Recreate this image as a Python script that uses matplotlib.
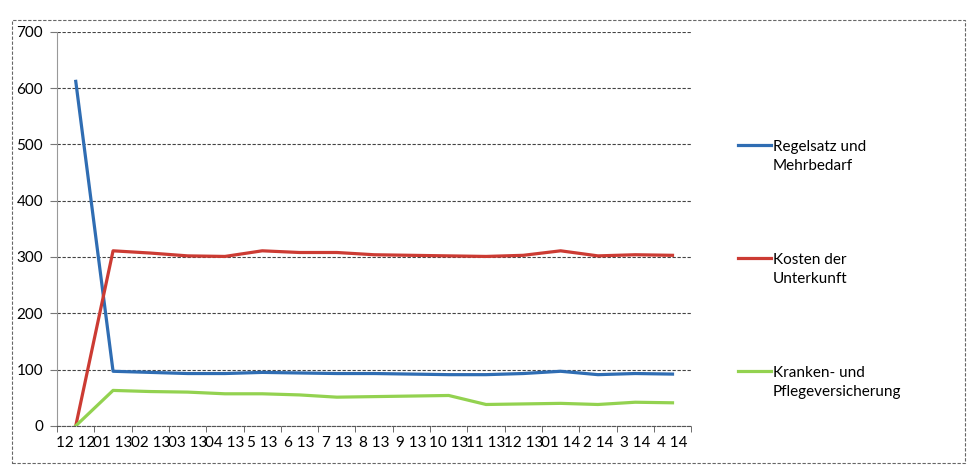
import numpy as np
import matplotlib as mpl
mpl.use('Agg')
import matplotlib.pyplot as plt
from matplotlib.patches import Rectangle
from matplotlib.legend_handler import HandlerLine2D

plt.rcParams['font.family'] = ['Lato', 'DejaVu Sans']
plt.rcParams['font.size'] = 11

# ---------------------------------------------------------------
# data
# ---------------------------------------------------------------
months = ['12 12', '01 13', '02 13', '03 13', '04 13', '5 13', '6 13', '7 13',
          '8 13', '9 13', '10 13', '11 13', '12 13', '01 14', '2 14', '3 14', '4 14']
regelsatz = [612, 97, 95, 93, 93, 95, 94, 93, 93, 92, 91, 91, 93, 97, 91, 93, 92]
unterkunft = [0, 311, 307, 302, 301, 311, 308, 308, 304, 303, 302, 301, 303, 311, 302, 304, 303]
kranken = [0, 63, 61, 60, 57, 57, 55, 51, 52, 53, 54, 38, 39, 40, 38, 42, 41]
names = ['Regelsatz und\nMehrbedarf', 'Kosten der\nUnterkunft',
         'Kranken- und\nPflegeversicherung']
colors = ['#2f6db3', '#cc3b33', '#93d250']


class TopLine(HandlerLine2D):
    # put the legend line next to the first text line, like Excel does
    def create_artists(self, legend, orig_handle, xdescent, ydescent,
                       width, height, fontsize, trans):
        return super().create_artists(legend, orig_handle, xdescent,
                                      ydescent - 1.45 * fontsize, width, height,
                                      fontsize, trans)


fig = plt.figure(figsize=(9.68, 4.68), dpi=100, facecolor='w')
ax = fig.add_axes([0.059, 0.09, 0.655, 0.842])

x = np.arange(len(months))
lines = []
for vals, col in zip([regelsatz, unterkunft, kranken], colors):
    ln, = ax.plot(x, vals, color=col, lw=2.3, solid_joinstyle='round')
    lines.append(ln)

ax.set_xlim(-0.5, len(months) - 0.5)
ax.set_ylim(0, 700)
ax.set_yticks(np.arange(0, 701, 100))
ax.set_xticks(x)
ax.set_xticklabels(months)
ax.set_xticks(np.arange(-0.5, len(months), 1.0), minor=True)
ax.tick_params(axis='x', which='major', length=0, pad=7)
ax.tick_params(axis='x', which='minor', length=4, color='#555555', direction='out')
ax.tick_params(axis='y', length=5, color='#777777', direction='out', pad=5)
ax.yaxis.grid(True, color='#444444', lw=0.8, ls=(0, (3, 1.5)))
ax.set_axisbelow(True)
for s in ['top', 'right']:
    ax.spines[s].set_visible(False)
ax.spines['left'].set_color('#999999')
ax.spines['bottom'].set_color('#555555')
ax.spines['bottom'].set_linestyle((0, (3, 1.5)))

leg = ax.legend(lines, names, loc='upper left', bbox_to_anchor=(0.755, 0.718),
                bbox_transform=fig.transFigure, frameon=False, borderpad=0,
                handlelength=2.1, handletextpad=0.13, labelspacing=5.2,
                handler_map={mpl.lines.Line2D: TopLine()})
for t in leg.get_texts():
    t.set_linespacing(1.5)

# dashed border of the chart area
fig.patches.append(Rectangle((0.012, 0.01), 0.985, 0.948, transform=fig.transFigure,
                             fill=False, ec='#666666', lw=0.8, ls=(0, (3, 1.5))))

fig.savefig('out.png', dpi=100)
